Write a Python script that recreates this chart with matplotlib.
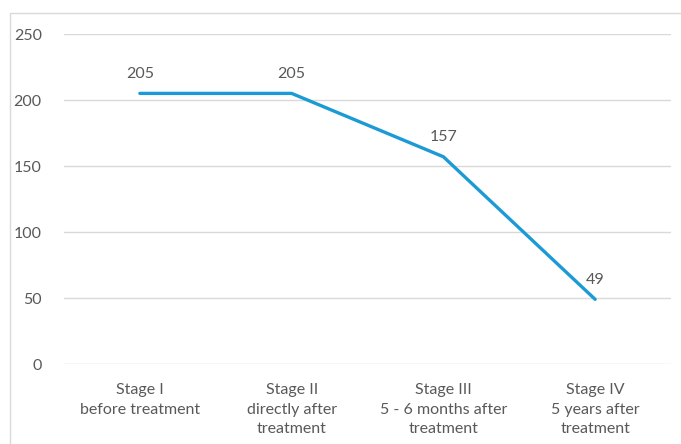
import matplotlib
matplotlib.use("Agg")
import matplotlib.pyplot as plt
from matplotlib.patches import Rectangle

# Data
stages = ["Stage I\nbefore treatment",
          "Stage II\ndirectly after\ntreatment",
          "Stage III\n5 - 6 months after\ntreatment",
          "Stage IV\n5 years after\ntreatment"]
counts = [205, 205, 157, 49]
y_ticks = [0, 50, 100, 150, 200, 250]

W, H = 681, 444
plt.rcParams["font.family"] = ["Lato", "DejaVu Sans"]
text_color = "#595959"
line_color = "#1C9AD6"
grid_color = "#D9D9D9"

fig = plt.figure(figsize=(W / 100, H / 100), dpi=100)
fig.patch.set_facecolor("white")

# chart frame (runs off the right and bottom edges)
fig.patches.append(Rectangle((10 / W, -0.1), 1.2, (H - 13) / H + 0.1,
                             transform=fig.transFigure, fill=False,
                             edgecolor="#D9D9D9", linewidth=1.0))

ax = fig.add_axes([64 / W, (H - 364) / H, 607 / W, 330 / H])
x = list(range(len(counts)))
ax.plot(x, counts, color=line_color, linewidth=2.4, solid_capstyle="round",
        solid_joinstyle="round", zorder=3)

for xi, v in zip(x, counts):
    ax.annotate(str(v), (xi, v), xytext=(0, 9), textcoords="offset points",
                ha="center", va="bottom", fontsize=11.5, color=text_color)

ax.set_xlim(-0.5, len(counts) - 0.5)
ax.set_ylim(0, 250)
ax.set_yticks(y_ticks)
ax.set_yticklabels([str(t) for t in y_ticks])
ax.set_xticks(x)
ax.set_xticklabels(stages, linespacing=1.5)
ax.tick_params(axis="y", length=0, pad=16, labelsize=11.5, labelcolor=text_color)
ax.tick_params(axis="x", length=0, pad=14, labelsize=11.5, labelcolor=text_color)

ax.grid(axis="y", color=grid_color, linewidth=1.0)
ax.set_axisbelow(True)
for s in ax.spines.values():
    s.set_visible(False)

fig.savefig("out.png", dpi=100)
